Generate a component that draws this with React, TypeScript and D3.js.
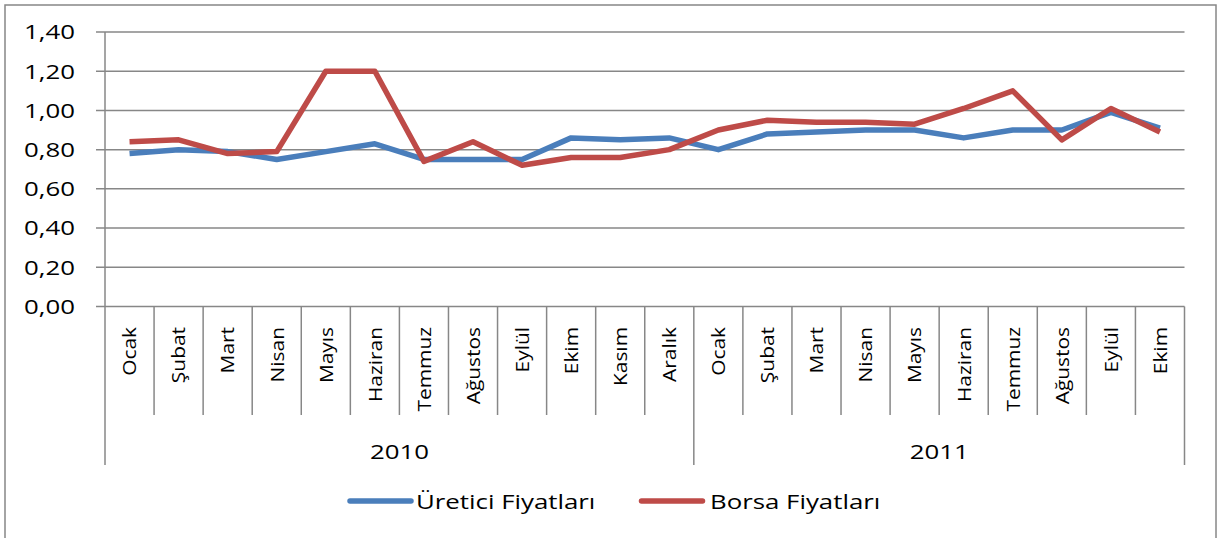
import React from "react";
import * as d3 from "d3";

const months2010 = ["Ocak", "Şubat", "Mart", "Nisan", "Mayıs", "Haziran", "Temmuz", "Ağustos", "Eylül", "Ekim", "Kasım", "Aralık"];
const months2011 = ["Ocak", "Şubat", "Mart", "Nisan", "Mayıs", "Haziran", "Temmuz", "Ağustos", "Eylül", "Ekim"];
const years = ["2010", "2011"];
const ureticiValues = [0.78, 0.8, 0.79, 0.75, 0.79, 0.83, 0.75, 0.75, 0.75, 0.86, 0.85, 0.86, 0.8, 0.88, 0.89, 0.9, 0.9, 0.86, 0.9, 0.9, 0.99, 0.91];
const borsaValues = [0.84, 0.85, 0.78, 0.79, 1.2, 1.2, 0.74, 0.84, 0.72, 0.76, 0.76, 0.8, 0.9, 0.95, 0.94, 0.94, 0.93, 1.01, 1.1, 0.85, 1.01, 0.89];
const yTicks = [0, 0.2, 0.4, 0.6, 0.8, 1.0, 1.2, 1.4];
const seriesNames = ["Üretici Fiyatları", "Borsa Fiyatları"];

const W = 1219;
const H = 538;
const left = 105;
const right = 1184.5;
const top = 32;
const bottom = 306.5;
const FONT = "'Open Sans', 'Noto Sans', sans-serif";
const GRID = "#878787";
const BLUE = "#4A7EBB";
const RED = "#BE4B48";

export default function App() {
  const cats = [
    ...months2010.map((m, i) => ({ key: "a" + i, label: m })),
    ...months2011.map((m, i) => ({ key: "b" + i, label: m })),
  ];
  const x = d3.scaleBand<string>().domain(cats.map((c) => c.key)).range([left, right]).padding(0);
  const y = d3.scaleLinear().domain([0, 1.4]).range([bottom, top]);
  const cx = (i: number) => (x(cats[i].key) as number) + x.bandwidth() / 2;

  const line = d3
    .line<number>()
    .x((_, i) => cx(i))
    .y((d) => y(d));

  const groups = [months2010.length, months2011.length];
  const bounds: number[] = [0];
  groups.forEach((g) => bounds.push(bounds[bounds.length - 1] + g));
  const bx = (k: number) => (k < cats.length ? (x(cats[k].key) as number) : right);

  return (
    <svg width={W} height={H} style={{ position: "absolute", left: 0, top: 0, background: "#fff" }} fontFamily={FONT}>
      <rect x={5} y={5} width={1211} height={560} fill="#fff" stroke={GRID} strokeWidth={1.5} />
      {yTicks.map((t) => (
        <g key={t}>
          <line x1={96} x2={right} y1={y(t)} y2={y(t)} stroke={GRID} strokeWidth={1.5} />
          <g transform={`translate(75,${y(t) + 7.4}) scale(1.26,1)`}>
            <text textAnchor="end" fontSize={20.5} fill="#000">
              {t.toFixed(2).replace(".", ",")}
            </text>
          </g>
        </g>
      ))}
      <line x1={left} x2={left} y1={top} y2={465} stroke={GRID} strokeWidth={1.5} />
      {d3.range(1, cats.length + 1).map((k) => {
        const major = bounds.includes(k);
        return (
          <line key={k} x1={bx(k)} x2={bx(k)} y1={bottom} y2={major ? 465 : 415} stroke={GRID} strokeWidth={1.5} />
        );
      })}
      {cats.map((c, i) => (
        <g key={c.key} transform={`translate(${cx(i)},327) rotate(-90) scale(1.1,1)`}>
          <text textAnchor="end" fontSize={19} dy={6.8} fill="#000">
            {c.label}
          </text>
        </g>
      ))}
      {years.map((yr, j) => {
        const mid = (bx(bounds[j]) + bx(bounds[j + 1])) / 2;
        return (
          <g key={yr} transform={`translate(${mid},459.3) scale(1.26,1)`}>
            <text textAnchor="middle" fontSize={20.5} fill="#000">
              {yr}
            </text>
          </g>
        );
      })}
      <path d={line(ureticiValues) || ""} fill="none" stroke={BLUE} strokeWidth={5.5} strokeLinejoin="round" />
      <path d={line(borsaValues) || ""} fill="none" stroke={RED} strokeWidth={5.5} strokeLinejoin="round" />
      {[
        { x0: 350, color: BLUE, name: seriesNames[0], tx: 416 },
        { x0: 641.5, color: RED, name: seriesNames[1], tx: 710 },
      ].map((l) => (
        <g key={l.name}>
          <line x1={l.x0} x2={l.x0 + 61} y1={501} y2={501} stroke={l.color} strokeWidth={5.5} strokeLinecap="round" />
          <g transform={`translate(${l.tx},508.5) scale(1.26,1)`}>
            <text fontSize={20.5} fill="#000">
              {l.name}
            </text>
          </g>
        </g>
      ))}
    </svg>
  );
}
